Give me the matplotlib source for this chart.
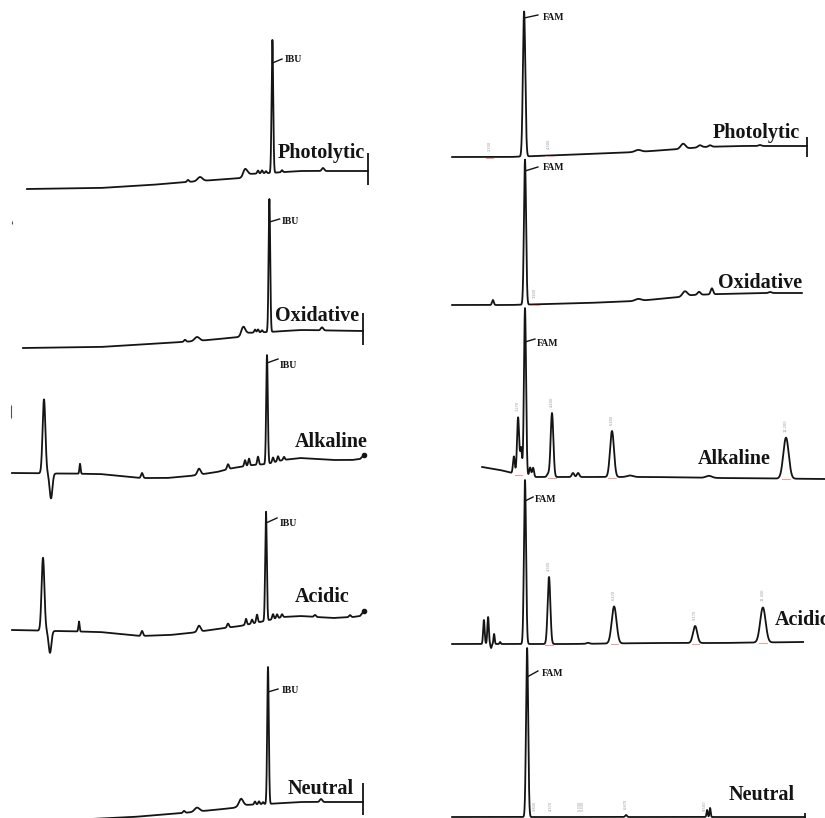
import matplotlib

matplotlib.use("Agg")
import matplotlib.pyplot as plt
import numpy as np

# Forced-degradation chromatograms. Time in min, signal in mAU.
# Baselines are (time, signal) anchors, peaks are (time, height, sigma).

# ---- left column: IBU ----
photo_ibu_base = [(1.35, 0), (5.0, 1), (7.5, 4), (10.0, 8), (12.1, 11), (12.4, 15),
                  (13.5, 16), (15.0, 18), (18.4, 18)]
photo_ibu_peaks = [(9.4, 2, 0.05), (10.0, 4, 0.12), (12.25, 7, 0.1), (12.9, 3, 0.04),
                   (13.1, 3, 0.04), (13.3, 2, 0.04), (13.62, 133, 0.04),
                   (14.1, 2, 0.04), (16.15, 3, 0.06)]

oxid_ibu_base = [(1.15, 0), (5.0, 1), (7.5, 4), (9.85, 7), (12.0, 11), (12.2, 15),
                 (13.45, 16), (15.0, 18), (18.15, 17)]
oxid_ibu_peaks = [(9.25, 2, 0.05), (9.85, 4, 0.12), (12.15, 7, 0.1), (12.75, 3, 0.04),
                  (12.9, 3, 0.04), (13.1, 2, 0.04), (13.47, 133, 0.04),
                  (16.1, 3, 0.06)]
oxid_ibu_stray = [(0.6, 124, 127)]

alk_ibu_base = [(0.6, 0), (5.0, -1), (7.0, -5), (8.35, -5), (9.5, -3), (10.85, 1),
                (11.65, 5), (12.65, 8), (13.35, 9), (14.15, 13), (15.0, 15),
                (16.65, 13), (17.6, 13), (18.0, 14), (18.2, 18)]
alk_ibu_peaks = [(2.2, 74, 0.07), (2.55, -25, 0.07), (4.0, 10, 0.03), (7.1, 5, 0.05),
                 (9.95, 6, 0.08), (11.4, 5, 0.05), (12.25, 6, 0.04), (12.45, 7, 0.04),
                 (12.9, 8, 0.04), (13.35, 109, 0.04), (13.65, 5, 0.04),
                 (13.9, 5, 0.04), (14.2, 3, 0.04)]
alk_ibu_stray = [(0.55, 55, 68)]

acid_ibu_base = [(0.6, 0), (5.0, -2), (7.0, -6), (8.5, -5), (9.5, -3), (10.85, 1),
                 (12.0, 4), (13.0, 8), (14.15, 13), (15.0, 14), (16.65, 12),
                 (17.65, 13), (18.0, 14), (18.2, 19)]
acid_ibu_peaks = [(2.15, 73, 0.07), (2.5, -22, 0.07), (3.95, 10, 0.03), (7.1, 5, 0.05),
                  (9.95, 6, 0.08), (11.4, 4, 0.05), (12.3, 6, 0.04), (12.6, 4, 0.04),
                  (12.85, 8, 0.04), (13.3, 109, 0.04), (13.65, 5, 0.04),
                  (13.85, 4, 0.04), (14.1, 3, 0.04), (15.75, 2, 0.05), (17.5, 2, 0.05)]

neut_ibu_base = [(1.35, 0), (6.65, 5), (9.15, 9), (11.65, 14), (12.2, 17),
                 (13.35, 18), (15.0, 20), (18.15, 20)]
neut_ibu_peaks = [(9.2, 2, 0.05), (9.85, 4, 0.12), (12.05, 7, 0.1), (12.75, 3, 0.04),
                  (12.95, 3, 0.04), (13.15, 2, 0.04), (13.4, 137, 0.04),
                  (16.05, 3, 0.06)]

# ---- right column: FAM ----
photo_fam_base = [(1.07, 0), (3.0, 0), (5.6, 3), (7.23, 5), (8.67, 8), (9.43, 10),
                  (10.57, 11), (11.67, 11), (12.9, 11)]
photo_fam_peaks = [(3.47, 145, 0.04), (7.27, 2, 0.1), (8.77, 5, 0.08),
                   (9.33, 2, 0.06), (9.67, 1.5, 0.05), (11.33, 1, 0.05)]
photo_fam_marks = [2.33, 4.3]

oxid_fam_base = [(1.07, 0), (3.0, 0), (5.57, 2), (7.23, 4), (8.67, 8), (9.1, 10),
                 (10.0, 11), (11.67, 12), (12.73, 12)]
oxid_fam_peaks = [(2.43, 5, 0.03), (3.5, 145, 0.035), (7.27, 2, 0.1), (8.83, 5, 0.08),
                  (9.3, 3, 0.05), (9.73, 6, 0.04), (11.67, 1, 0.05)]
oxid_fam_marks = [3.83]

alk_fam_base = [(2.07, 10), (2.67, 7), (3.07, 4), (3.5, 1), (3.83, 0), (7.77, 0),
                (10.0, -1), (13.5, -2)]
alk_fam_peaks = [(3.13, 17, 0.03), (3.27, 57, 0.035), (3.37, 27, 0.03),
                 (3.5, 168, 0.035), (3.67, 9, 0.03), (3.77, 9, 0.03), (4.27, 3, 0.04),
                 (4.4, 64, 0.045), (5.1, 4, 0.04), (5.27, 4, 0.04), (6.4, 46, 0.065),
                 (7.0, 1.5, 0.1), (9.63, 2, 0.1), (12.2, 41, 0.09)]
alk_fam_marks = [3.27, 4.4, 6.4, 12.2]

acid_fam_base = [(1.07, 0), (5.0, 0), (7.77, 1), (10.0, 1), (12.77, 2)]
acid_fam_peaks = [(2.13, 24, 0.025), (2.27, 27, 0.025), (2.37, -4, 0.02),
                  (2.47, 10, 0.02), (2.67, 2, 0.02), (3.5, 164, 0.035),
                  (4.3, 67, 0.045), (5.6, 1, 0.05), (6.47, 37, 0.08),
                  (9.17, 17, 0.07), (11.43, 35, 0.09)]
acid_fam_marks = [4.3, 6.47, 9.17, 11.43]

neut_fam_base = [(1.07, 0), (12.83, 0)]
neut_fam_peaks = [(3.57, 169, 0.035), (6.87, 2, 0.03), (9.57, 7, 0.02),
                  (9.67, 9, 0.02)]
neut_fam_marks = [3.83, 4.37, 5.33, 5.43, 6.87, 9.5]

FIG_W, FIG_H = 825, 818
INK = "#141414"
SERIF = "Liberation Serif"

# column geometry in pixels and the time span it shows
COLUMNS = {
    "left": dict(x0=0, x1=410, tmax=20.5),
    "right": dict(x0=420, x1=825, tmax=13.5),
}
Y_BELOW, Y_ABOVE = -60, 200  # signal range of each panel axes (1 mAU = 1 px)


def trace(base, peaks, n=5000):
    bt, bs = np.array(base, dtype=float).T
    t = np.linspace(bt[0], bt[-1], n)
    y = np.interp(t, bt, bs)
    for pt, ph, pw in peaks:
        y += ph * np.exp(-0.5 * ((t - pt) / pw) ** 2)
    return t, y


def panel_axes(fig, column, zero_px):
    col = COLUMNS[column]
    left = col["x0"] / FIG_W
    width = (col["x1"] - col["x0"]) / FIG_W
    bottom = 1 - (zero_px - Y_BELOW) / FIG_H
    height = (Y_ABOVE - Y_BELOW) / FIG_H
    ax = fig.add_axes([left, bottom, width, height])
    ax.set_xlim(0, col["tmax"])
    ax.set_ylim(Y_BELOW, Y_ABOVE)
    ax.axis("off")
    return ax


def draw_panel(fig, spec):
    ax = panel_axes(fig, spec["column"], spec["zero"])
    t, y = trace(spec["base"], spec["peaks"])
    ax.plot(t, y, color=INK, lw=1.3, solid_joinstyle="round")

    # compound tag with its leader
    (lx0, ly0), (lx1, ly1), (tx, ty) = spec["tag_at"]
    ax.plot([lx0, lx1], [ly0, ly1], color=INK, lw=1.0)
    ax.text(tx, ty, spec["tag"], fontsize=7, fontweight="bold", family=SERIF,
            color=INK, va="center", ha="left")

    # stress condition label
    cx, cy = spec["label_at"]
    ax.text(cx, cy, spec["label"], fontsize=14.5, fontweight="bold", family=SERIF,
            color=INK, va="center", ha="left")

    end = spec.get("end")
    if end == "bar":
        lo, hi = spec["bar"]
        ax.vlines(t[-1], lo, hi, color=INK, lw=1.3)
    elif end == "dot":
        ax.plot(t[-1], y[-1], "o", color=INK, ms=3)

    for st, lo, hi in spec.get("stray", []):
        ax.vlines(st, lo, hi, color="#555555", lw=0.8)

    # integration marks: pink baseline ticks and faint retention-time labels
    bt, bs = np.array(spec["base"], dtype=float).T
    for mt in spec.get("marks", []):
        b = np.interp(mt, bt, bs)
        top = y[np.argmin(np.abs(t - mt))]
        ax.plot([mt - 0.12, mt + 0.12], [b - 0.5, b - 0.5], color="#f19a9a", lw=0.7)
        ax.text(mt, top + 6, f"{mt:.3f}", fontsize=2.6, rotation=90, color="#9a9a9a",
                ha="center", va="bottom")


panels = [
    dict(column="left", zero=189, base=photo_ibu_base, peaks=photo_ibu_peaks,
         tag="IBU", tag_at=((13.62, 126), (14.1, 130), (14.25, 129)),
         label="Photolytic", label_at=(13.9, 36), end="bar", bar=(4, 36)),
    dict(column="left", zero=348, base=oxid_ibu_base, peaks=oxid_ibu_peaks,
         tag="IBU", tag_at=((13.47, 126), (13.98, 129), (14.1, 127)),
         label="Oxidative", label_at=(13.75, 32), end="bar", bar=(3, 35),
         stray=oxid_ibu_stray),
    dict(column="left", zero=473, base=alk_ibu_base, peaks=alk_ibu_peaks,
         tag="IBU", tag_at=((13.35, 110), (13.9, 114), (14.0, 107)),
         label="Alkaline", label_at=(14.75, 31), end="dot", stray=alk_ibu_stray),
    dict(column="left", zero=630, base=acid_ibu_base, peaks=acid_ibu_peaks,
         tag="IBU", tag_at=((13.3, 107), (13.85, 112), (14.0, 107)),
         label="Acidic", label_at=(14.75, 33), end="dot"),
    dict(column="left", zero=822, base=neut_ibu_base, peaks=neut_ibu_peaks,
         tag="IBU", tag_at=((13.4, 130), (13.9, 133), (14.1, 131)),
         label="Neutral", label_at=(14.4, 33), end="bar", bar=(7, 39)),
    dict(column="right", zero=157, base=photo_fam_base, peaks=photo_fam_peaks,
         tag="FAM", tag_at=((3.47, 139), (3.93, 142), (4.1, 139)),
         label="Photolytic", label_at=(9.77, 24), end="bar", bar=(0, 20),
         marks=photo_fam_marks),
    dict(column="right", zero=305, base=oxid_fam_base, peaks=oxid_fam_peaks,
         tag="FAM", tag_at=((3.5, 134), (3.93, 138), (4.1, 137)),
         label="Oxidative", label_at=(9.93, 22), marks=oxid_fam_marks),
    dict(column="right", zero=477, base=alk_fam_base, peaks=alk_fam_peaks,
         tag="FAM", tag_at=((3.5, 135), (3.83, 138), (3.9, 133)),
         label="Alkaline", label_at=(9.27, 18), marks=alk_fam_marks),
    dict(column="right", zero=644, base=acid_fam_base, peaks=acid_fam_peaks,
         tag="FAM", tag_at=((3.5, 143), (3.77, 147), (3.83, 144)),
         label="Acidic", label_at=(11.83, 24), marks=acid_fam_marks),
    dict(column="right", zero=817, base=neut_fam_base, peaks=neut_fam_peaks,
         tag="FAM", tag_at=((3.57, 140), (3.93, 146), (4.07, 144)),
         label="Neutral", label_at=(10.27, 22), end="bar", bar=(-5, 4),
         marks=neut_fam_marks),
]

fig = plt.figure(figsize=(FIG_W / 100, FIG_H / 100), dpi=100)
fig.patch.set_facecolor("white")
for spec in panels:
    draw_panel(fig, spec)

fig.savefig("out.png", dpi=100)
plt.close(fig)
